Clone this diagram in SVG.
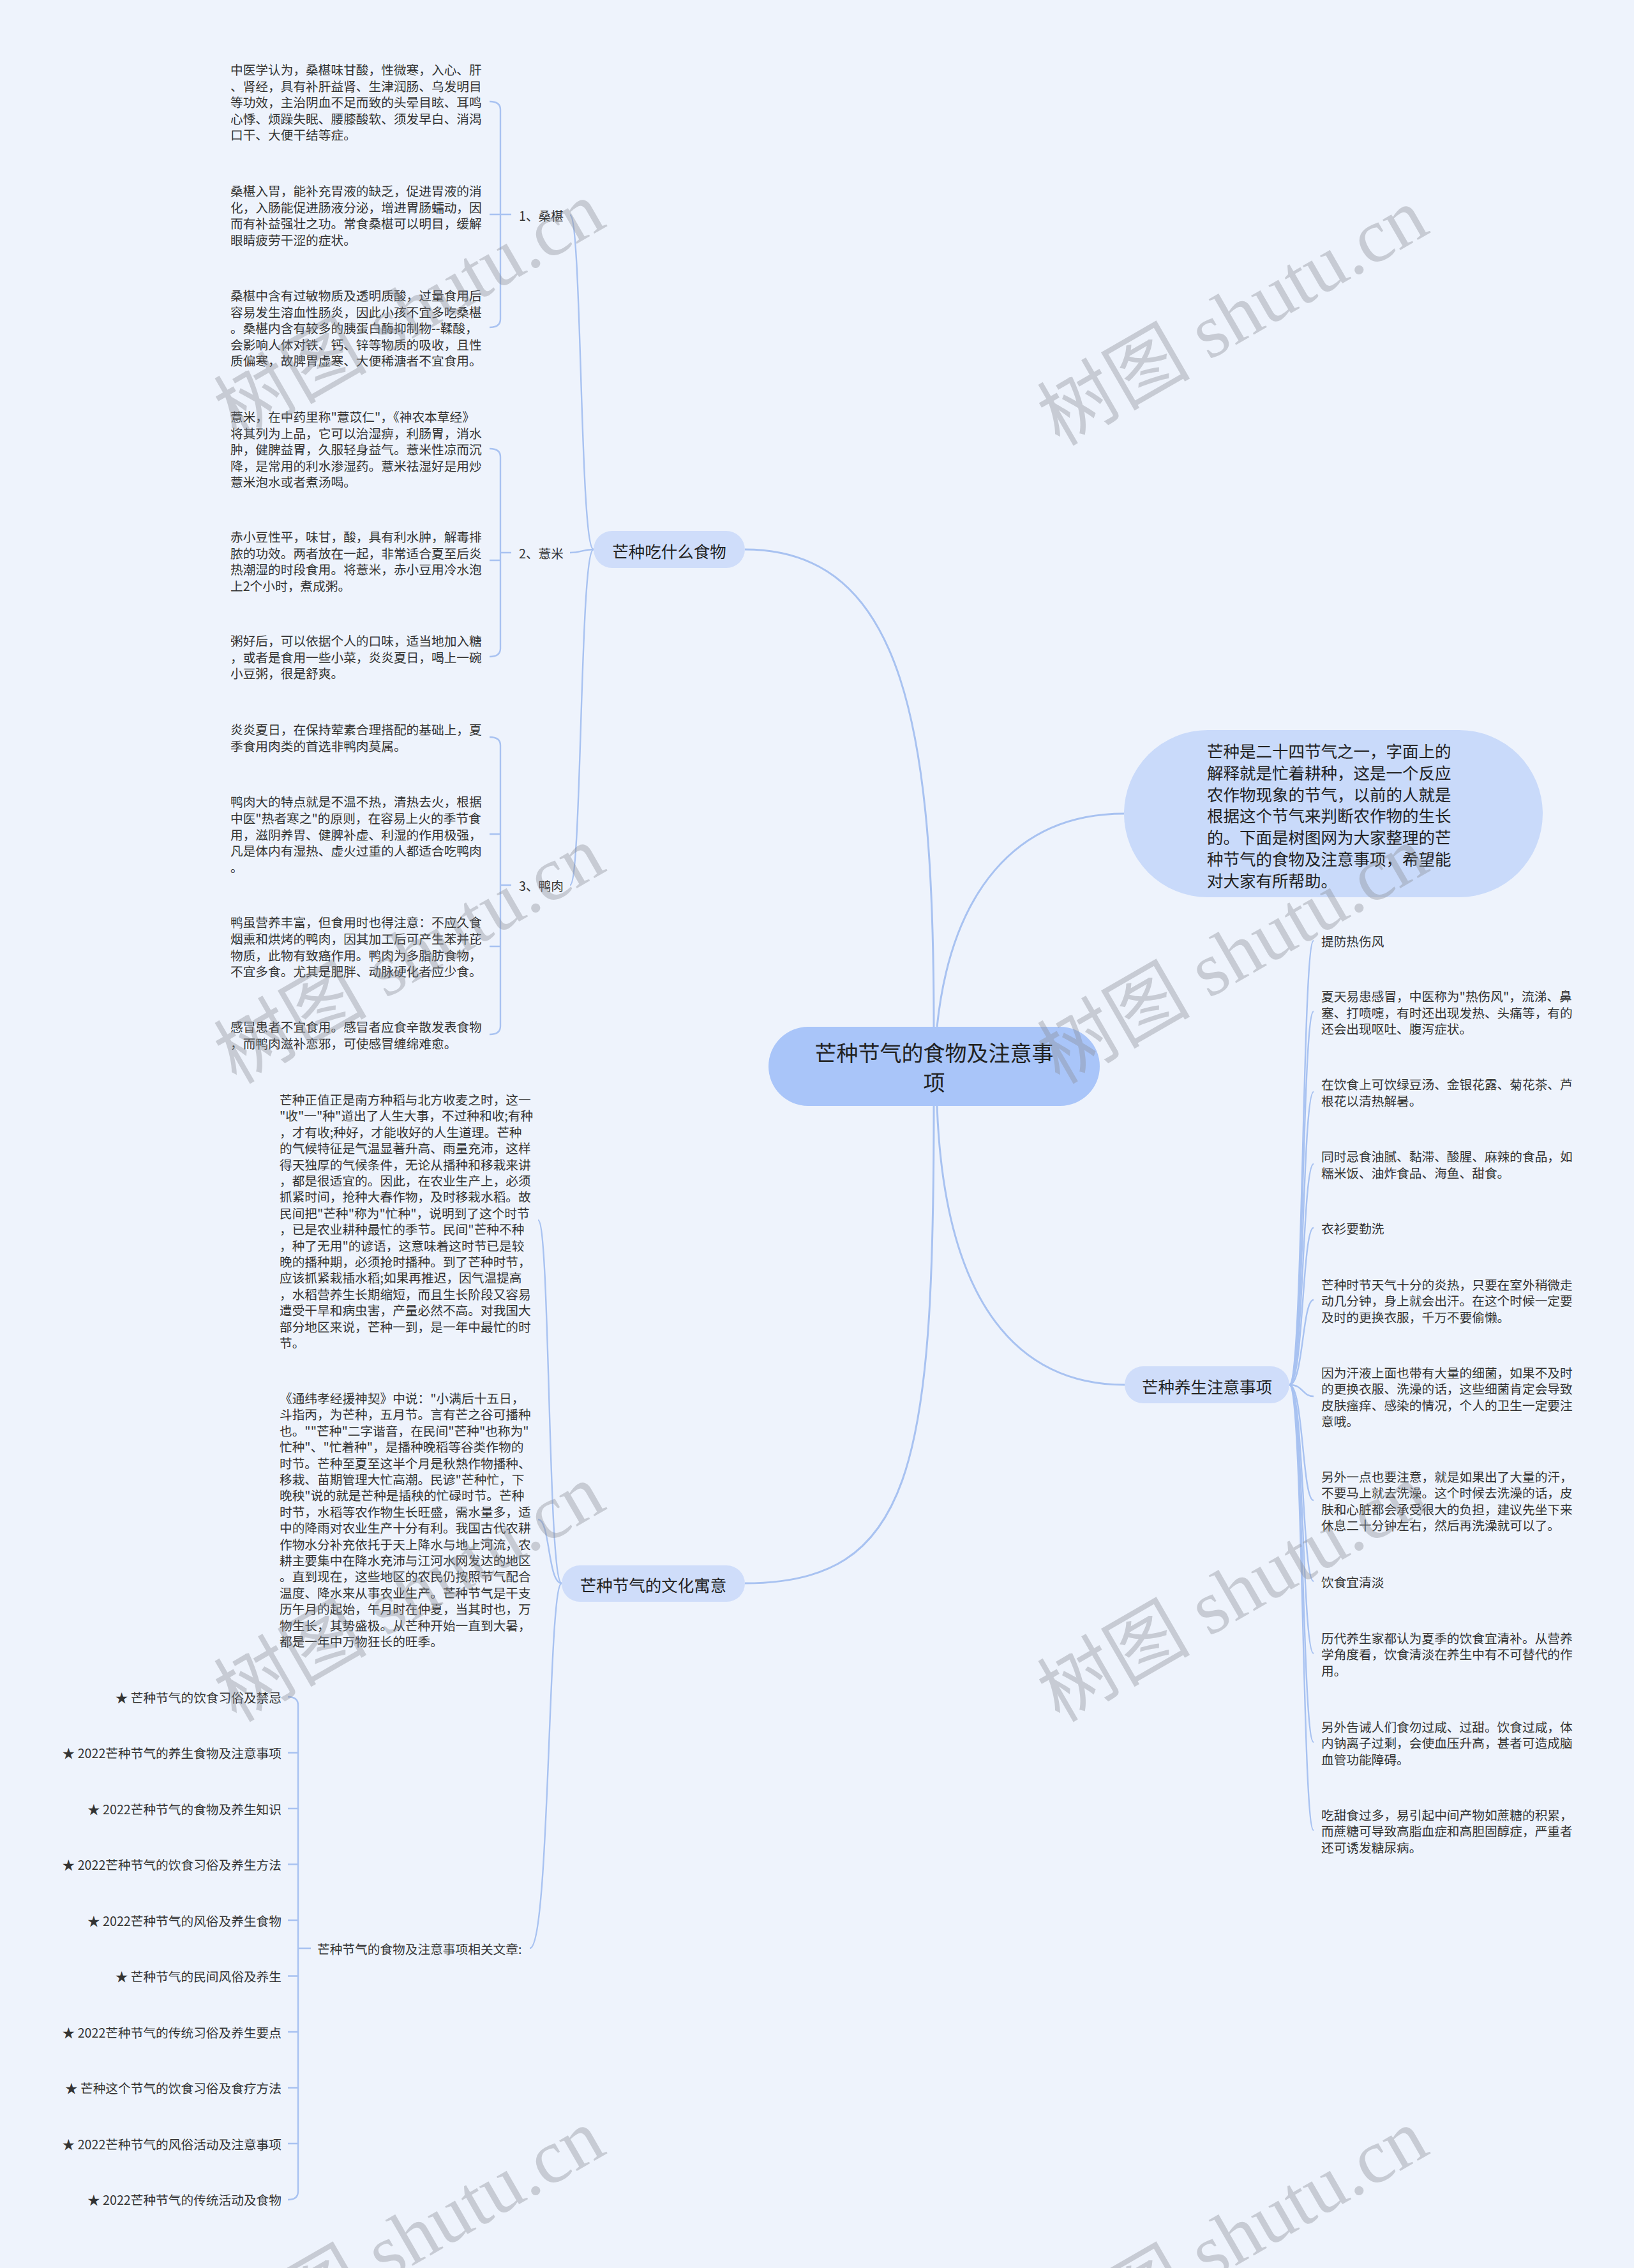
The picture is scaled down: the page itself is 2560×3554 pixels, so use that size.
<svg xmlns="http://www.w3.org/2000/svg" width="2560" height="3554" viewBox="0 0 2560 3554">
<style>
text{font-family:"Noto Sans CJK SC","Liberation Sans",sans-serif;fill:#333;dominant-baseline:central}
.t{font-size:19.7px}
.n{font-size:25.5px;fill:#222}
.c{font-size:34px;fill:#222;text-anchor:middle}
.m{fill:none;stroke:#a8c2f1;stroke-width:3}
.s{fill:none;stroke:#a8c2f1;stroke-width:2.4}
.wm{font-family:"Liberation Serif","Noto Sans CJK SC",serif;font-size:120px;fill:#8a8d94;opacity:0.38;dominant-baseline:alphabetic}
</style>
<rect x="0" y="0" width="2560" height="3554" fill="#eef3fc"/>

<g id="connectors">
<path class="m" d="M1463,1609 C1463,1150 1420,861 1167,861"/>
<path class="m" d="M1468,1609 C1490,1400 1590,1275 1761,1275"/>
<path class="m" d="M1463,1733 C1463,2300 1430,2481 1167,2481"/>
<path class="m" d="M1468,1733 C1480,2050 1600,2170 1762,2170"/>
<path class="s" d="M930,861 C908,861 912,337 893,337"/>
<path class="s" d="M930,861 C910,861 912,866 893,866"/>
<path class="s" d="M930,861 C908,861 912,1387 893,1387"/>
<path class="s" d="M767,159 Q784,159 784,172 V500 Q784,513 767,513 M767,336 H801"/>
<path class="s" d="M767,703 Q784,703 784,716 V1016 Q784,1029 767,1029 M767,878 H784 M784,866 H801"/>
<path class="s" d="M767,1155 Q784,1155 784,1168 V1608 Q784,1621 767,1621 M767,1307 H784 M767,1483 H784 M784,1387 H801"/>
<path class="s" d="M880,2481 C858,2481 862,1912 843,1912"/>
<path class="s" d="M880,2481 C858,2481 862,2381 843,2381"/>
<path class="s" d="M880,2481 C858,2481 862,3053 830,3053"/>
<path class="s" d="M451,2659 Q467,2659 467,2672 V3434 Q467,3447 451,3447 M451,2746.5 H467 M451,2834 H467 M451,2921.5 H467 M451,3009 H467 M451,3096.5 H467 M451,3184 H467 M451,3271.5 H467 M451,3359 H467 M467,3053 H487"/>
<path class="s" d="M2020,2170 C2042,2170 2040,1474 2058,1474"/>
<path class="s" d="M2020,2170 C2042,2170 2040,1585 2058,1585"/>
<path class="s" d="M2020,2170 C2042,2170 2040,1711 2058,1711"/>
<path class="s" d="M2020,2170 C2042,2170 2040,1824 2058,1824"/>
<path class="s" d="M2020,2170 C2042,2170 2040,1924 2058,1924"/>
<path class="s" d="M2020,2170 C2042,2170 2040,2037 2058,2037"/>
<path class="s" d="M2020,2170 C2042,2170 2040,2188 2058,2188"/>
<path class="s" d="M2020,2170 C2042,2170 2040,2351 2058,2351"/>
<path class="s" d="M2020,2170 C2042,2170 2040,2478 2058,2478"/>
<path class="s" d="M2020,2170 C2042,2170 2040,2591 2058,2591"/>
<path class="s" d="M2020,2170 C2042,2170 2040,2730 2058,2730"/>
<path class="s" d="M2020,2170 C2042,2170 2040,2868 2058,2868"/>
</g>

<g id="root">
<rect x="1204" y="1609" width="519" height="124" rx="62" fill="#a9c5f9"/>
<text class="c" x="1463.5" y="1648">芒种节气的食物及注意事</text>
<text class="c" x="1463.5" y="1694">项</text>
</g>

<g id="intro">
<rect x="1761" y="1144" width="656" height="262" rx="131" fill="#c9dafa"/>
<text class="n" x="1891" y="1175"><tspan x="1891" dy="0">芒种是二十四节气之一，字面上的</tspan><tspan x="1891" dy="33.8">解释就是忙着耕种，这是一个反应</tspan><tspan x="1891" dy="33.8">农作物现象的节气，以前的人就是</tspan><tspan x="1891" dy="33.8">根据这个节气来判断农作物的生长</tspan><tspan x="1891" dy="33.8">的。下面是树图网为大家整理的芒</tspan><tspan x="1891" dy="33.8">种节气的食物及注意事项，希望能</tspan><tspan x="1891" dy="33.8">对大家有所帮助。</tspan></text>
</g>

<g id="branch-food">
<rect x="930" y="832" width="237" height="58" rx="29" fill="#cfddfa"/>
<text class="n" x="1048.5" y="862" text-anchor="middle">芒种吃什么食物</text>
</g>

<g id="food-1">
<text class="t" x="813" y="337">1、桑椹</text>
</g>
<g id="food-1-a">
<text class="t" x="361" y="108"><tspan x="361" dy="0">中医学认为，桑椹味甘酸，性微寒，入心、肝</tspan><tspan x="361" dy="25.5">、肾经，具有补肝益肾、生津润肠、乌发明目</tspan><tspan x="361" dy="25.5">等功效，主治阴血不足而致的头晕目眩、耳鸣</tspan><tspan x="361" dy="25.5">心悸、烦躁失眠、腰膝酸软、须发早白、消渴</tspan><tspan x="361" dy="25.5">口干、大便干结等症。</tspan></text>
</g>
<g id="food-1-b">
<text class="t" x="361" y="298"><tspan x="361" dy="0">桑椹入胃，能补充胃液的缺乏，促进胃液的消</tspan><tspan x="361" dy="25.5">化，入肠能促进肠液分泌，增进胃肠蠕动，因</tspan><tspan x="361" dy="25.5">而有补益强壮之功。常食桑椹可以明目，缓解</tspan><tspan x="361" dy="25.5">眼睛疲劳干涩的症状。</tspan></text>
</g>
<g id="food-1-c">
<text class="t" x="361" y="462"><tspan x="361" dy="0">桑椹中含有过敏物质及透明质酸，过量食用后</tspan><tspan x="361" dy="25.5">容易发生溶血性肠炎，因此小孩不宜多吃桑椹</tspan><tspan x="361" dy="25.5">。桑椹内含有较多的胰蛋白酶抑制物--鞣酸，</tspan><tspan x="361" dy="25.5">会影响人体对铁、钙、锌等物质的吸收，且性</tspan><tspan x="361" dy="25.5">质偏寒，故脾胃虚寒、大便稀溏者不宜食用。</tspan></text>
</g>

<g id="food-2">
<text class="t" x="813" y="866">2、薏米</text>
</g>
<g id="food-2-a">
<text class="t" x="361" y="652"><tspan x="361" dy="0">薏米，在中药里称"薏苡仁"，《神农本草经》</tspan><tspan x="361" dy="25.5">将其列为上品，它可以治湿痹，利肠胃，消水</tspan><tspan x="361" dy="25.5">肿，健脾益胃，久服轻身益气。薏米性凉而沉</tspan><tspan x="361" dy="25.5">降，是常用的利水渗湿药。薏米祛湿好是用炒</tspan><tspan x="361" dy="25.5">薏米泡水或者煮汤喝。</tspan></text>
</g>
<g id="food-2-b">
<text class="t" x="361" y="840"><tspan x="361" dy="0">赤小豆性平，味甘，酸，具有利水肿，解毒排</tspan><tspan x="361" dy="25.5">脓的功效。两者放在一起，非常适合夏至后炎</tspan><tspan x="361" dy="25.5">热潮湿的时段食用。将薏米，赤小豆用冷水泡</tspan><tspan x="361" dy="25.5">上2个小时，煮成粥。</tspan></text>
</g>
<g id="food-2-c">
<text class="t" x="361" y="1003"><tspan x="361" dy="0">粥好后，可以依据个人的口味，适当地加入糖</tspan><tspan x="361" dy="25.5">，或者是食用一些小菜，炎炎夏日，喝上一碗</tspan><tspan x="361" dy="25.5">小豆粥，很是舒爽。</tspan></text>
</g>

<g id="food-3">
<text class="t" x="813" y="1387">3、鸭肉</text>
</g>
<g id="food-3-a">
<text class="t" x="361" y="1142"><tspan x="361" dy="0">炎炎夏日，在保持荤素合理搭配的基础上，夏</tspan><tspan x="361" dy="25.8">季食用肉类的首选非鸭肉莫属。</tspan></text>
</g>
<g id="food-3-b">
<text class="t" x="361" y="1255"><tspan x="361" dy="0">鸭肉大的特点就是不温不热，清热去火，根据</tspan><tspan x="361" dy="25.8">中医"热者寒之"的原则，在容易上火的季节食</tspan><tspan x="361" dy="25.8">用，滋阴养胃、健脾补虚、利湿的作用极强，</tspan><tspan x="361" dy="25.8">凡是体内有湿热、虚火过重的人都适合吃鸭肉</tspan><tspan x="361" dy="25.8">。</tspan></text>
</g>
<g id="food-3-c">
<text class="t" x="361" y="1444"><tspan x="361" dy="0">鸭虽营养丰富，但食用时也得注意：不应久食</tspan><tspan x="361" dy="25.8">烟熏和烘烤的鸭肉，因其加工后可产生苯并芘</tspan><tspan x="361" dy="25.8">物质，此物有致癌作用。鸭肉为多脂肪食物，</tspan><tspan x="361" dy="25.8">不宜多食。尤其是肥胖、动脉硬化者应少食。</tspan></text>
</g>
<g id="food-3-d">
<text class="t" x="361" y="1608"><tspan x="361" dy="0">感冒患者不宜食用。感冒者应食辛散发表食物</tspan><tspan x="361" dy="25.8">，而鸭肉滋补恋邪，可使感冒缠绵难愈。</tspan></text>
</g>

<g id="branch-culture">
<rect x="880" y="2453" width="287" height="57" rx="28.5" fill="#cfddfa"/>
<text class="n" x="1023.5" y="2482" text-anchor="middle">芒种节气的文化寓意</text>
</g>
<g id="culture-a">
<text class="t" x="438" y="1722"><tspan x="438" dy="0">芒种正值正是南方种稻与北方收麦之时，这一</tspan><tspan x="438" dy="25.4">"收"一"种"道出了人生大事，不过种和收;有种</tspan><tspan x="438" dy="25.4">，才有收;种好，才能收好的人生道理。芒种</tspan><tspan x="438" dy="25.4">的气候特征是气温显著升高、雨量充沛，这样</tspan><tspan x="438" dy="25.4">得天独厚的气候条件，无论从播种和移栽来讲</tspan><tspan x="438" dy="25.4">，都是很适宜的。因此，在农业生产上，必须</tspan><tspan x="438" dy="25.4">抓紧时间，抢种大春作物，及时移栽水稻。故</tspan><tspan x="438" dy="25.4">民间把"芒种"称为"忙种"，说明到了这个时节</tspan><tspan x="438" dy="25.4">，已是农业耕种最忙的季节。民间"芒种不种</tspan><tspan x="438" dy="25.4">，种了无用"的谚语，这意味着这时节已是较</tspan><tspan x="438" dy="25.4">晚的播种期，必须抢时播种。到了芒种时节，</tspan><tspan x="438" dy="25.4">应该抓紧栽插水稻;如果再推迟，因气温提高</tspan><tspan x="438" dy="25.4">，水稻营养生长期缩短，而且生长阶段又容易</tspan><tspan x="438" dy="25.4">遭受干旱和病虫害，产量必然不高。对我国大</tspan><tspan x="438" dy="25.4">部分地区来说，芒种一到，是一年中最忙的时</tspan><tspan x="438" dy="25.4">节。</tspan></text>
</g>
<g id="culture-b">
<text class="t" x="438" y="2190"><tspan x="438" dy="0">《通纬孝经援神契》中说："小满后十五日，</tspan><tspan x="438" dy="25.4">斗指丙，为芒种，五月节。言有芒之谷可播种</tspan><tspan x="438" dy="25.4">也。""芒种"二字谐音，在民间"芒种"也称为"</tspan><tspan x="438" dy="25.4">忙种"、"忙着种"，是播种晚稻等谷类作物的</tspan><tspan x="438" dy="25.4">时节。芒种至夏至这半个月是秋熟作物播种、</tspan><tspan x="438" dy="25.4">移栽、苗期管理大忙高潮。民谚"芒种忙，下</tspan><tspan x="438" dy="25.4">晚秧"说的就是芒种是插秧的忙碌时节。芒种</tspan><tspan x="438" dy="25.4">时节，水稻等农作物生长旺盛，需水量多，适</tspan><tspan x="438" dy="25.4">中的降雨对农业生产十分有利。我国古代农耕</tspan><tspan x="438" dy="25.4">作物水分补充依托于天上降水与地上河流，农</tspan><tspan x="438" dy="25.4">耕主要集中在降水充沛与江河水网发达的地区</tspan><tspan x="438" dy="25.4">。直到现在，这些地区的农民仍按照节气配合</tspan><tspan x="438" dy="25.4">温度、降水来从事农业生产。芒种节气是干支</tspan><tspan x="438" dy="25.4">历午月的起始，午月时在仲夏，当其时也，万</tspan><tspan x="438" dy="25.4">物生长，其势盛极。从芒种开始一直到大暑，</tspan><tspan x="438" dy="25.4">都是一年中万物狂长的旺季。</tspan></text>
</g>
<g id="culture-related">
<text class="t" x="497" y="3053">芒种节气的食物及注意事项相关文章:</text>
</g>
<g id="related-items" text-anchor="end">
<text class="t" x="441" y="2659">★ 芒种节气的饮食习俗及禁忌</text>
<text class="t" x="441" y="2746.5">★ 2022芒种节气的养生食物及注意事项</text>
<text class="t" x="441" y="2834">★ 2022芒种节气的食物及养生知识</text>
<text class="t" x="441" y="2921.5">★ 2022芒种节气的饮食习俗及养生方法</text>
<text class="t" x="441" y="3009">★ 2022芒种节气的风俗及养生食物</text>
<text class="t" x="441" y="3096.5">★ 芒种节气的民间风俗及养生</text>
<text class="t" x="441" y="3184">★ 2022芒种节气的传统习俗及养生要点</text>
<text class="t" x="441" y="3271.5">★ 芒种这个节气的饮食习俗及食疗方法</text>
<text class="t" x="441" y="3359">★ 2022芒种节气的风俗活动及注意事项</text>
<text class="t" x="441" y="3446.5">★ 2022芒种节气的传统活动及食物</text>
</g>

<g id="branch-health">
<rect x="1762" y="2141" width="258" height="58" rx="29" fill="#cfddfa"/>
<text class="n" x="1891" y="2171" text-anchor="middle">芒种养生注意事项</text>
</g>
<g id="health-items">
<text class="t" x="2070" y="1474">提防热伤风</text>
<text class="t" x="2070" y="1560"><tspan x="2070" dy="0">夏天易患感冒，中医称为"热伤风"，流涕、鼻</tspan><tspan x="2070" dy="25.5">塞、打喷嚏，有时还出现发热、头痛等，有的</tspan><tspan x="2070" dy="25.5">还会出现呕吐、腹泻症状。</tspan></text>
<text class="t" x="2070" y="1698"><tspan x="2070" dy="0">在饮食上可饮绿豆汤、金银花露、菊花茶、芦</tspan><tspan x="2070" dy="25.5">根花以清热解暑。</tspan></text>
<text class="t" x="2070" y="1811"><tspan x="2070" dy="0">同时忌食油腻、黏滞、酸腥、麻辣的食品，如</tspan><tspan x="2070" dy="25.5">糯米饭、油炸食品、海鱼、甜食。</tspan></text>
<text class="t" x="2070" y="1924">衣衫要勤洗</text>
<text class="t" x="2070" y="2012"><tspan x="2070" dy="0">芒种时节天气十分的炎热，只要在室外稍微走</tspan><tspan x="2070" dy="25.4">动几分钟，身上就会出汗。在这个时候一定要</tspan><tspan x="2070" dy="25.4">及时的更换衣服，千万不要偷懒。</tspan></text>
<text class="t" x="2070" y="2150"><tspan x="2070" dy="0">因为汗液上面也带有大量的细菌，如果不及时</tspan><tspan x="2070" dy="25.4">的更换衣服、洗澡的话，这些细菌肯定会导致</tspan><tspan x="2070" dy="25.4">皮肤瘙痒、感染的情况，个人的卫生一定要注</tspan><tspan x="2070" dy="25.4">意哦。</tspan></text>
<text class="t" x="2070" y="2313"><tspan x="2070" dy="0">另外一点也要注意，就是如果出了大量的汗，</tspan><tspan x="2070" dy="25.4">不要马上就去洗澡。这个时候去洗澡的话，皮</tspan><tspan x="2070" dy="25.4">肤和心脏都会承受很大的负担，建议先坐下来</tspan><tspan x="2070" dy="25.4">休息二十分钟左右，然后再洗澡就可以了。</tspan></text>
<text class="t" x="2070" y="2478">饮食宜清淡</text>
<text class="t" x="2070" y="2566"><tspan x="2070" dy="0">历代养生家都认为夏季的饮食宜清补。从营养</tspan><tspan x="2070" dy="25.4">学角度看，饮食清淡在养生中有不可替代的作</tspan><tspan x="2070" dy="25.4">用。</tspan></text>
<text class="t" x="2070" y="2705"><tspan x="2070" dy="0">另外告诫人们食勿过咸、过甜。饮食过咸，体</tspan><tspan x="2070" dy="25.4">内钠离子过剩，会使血压升高，甚者可造成脑</tspan><tspan x="2070" dy="25.4">血管功能障碍。</tspan></text>
<text class="t" x="2070" y="2843"><tspan x="2070" dy="0">吃甜食过多，易引起中间产物如蔗糖的积累，</tspan><tspan x="2070" dy="25.4">而蔗糖可导致高脂血症和高胆固醇症，严重者</tspan><tspan x="2070" dy="25.4">还可诱发糖尿病。</tspan></text>
</g>

<g id="watermarks">
<text class="wm" transform="translate(370,690) rotate(-30)">树图 shutu.cn</text>
<text class="wm" transform="translate(1660,700) rotate(-30)">树图 shutu.cn</text>
<text class="wm" transform="translate(370,1700) rotate(-30)">树图 shutu.cn</text>
<text class="wm" transform="translate(1660,1700) rotate(-30)">树图 shutu.cn</text>
<text class="wm" transform="translate(370,2700) rotate(-30)">树图 shutu.cn</text>
<text class="wm" transform="translate(1660,2700) rotate(-30)">树图 shutu.cn</text>
<text class="wm" transform="translate(370,3710) rotate(-30)">树图 shutu.cn</text>
<text class="wm" transform="translate(1660,3710) rotate(-30)">树图 shutu.cn</text>
</g>
</svg>
